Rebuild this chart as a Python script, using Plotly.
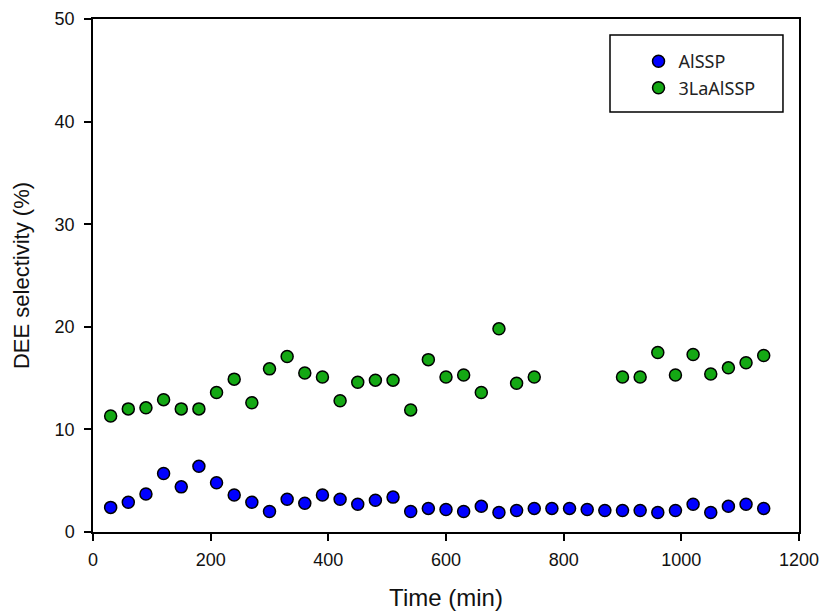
import plotly.graph_objects as go

# Time (min)
time_alssp = [30, 60, 90, 120, 150, 180, 210, 240, 270, 300, 330, 360, 390,
              420, 450, 480, 510, 540, 570, 600, 630, 660, 690, 720, 750,
              780, 810, 840, 870, 900, 930, 960, 990, 1020, 1050, 1080,
              1110, 1140]
sel_alssp = [2.4, 2.9, 3.7, 5.7, 4.4, 6.4, 4.8, 3.6, 2.9, 2.0, 3.2, 2.8, 3.6,
             3.2, 2.7, 3.1, 3.4, 2.0, 2.3, 2.2, 2.0, 2.5, 1.9, 2.1, 2.3,
             2.3, 2.3, 2.2, 2.1, 2.1, 2.1, 1.9, 2.1, 2.7, 1.9, 2.5,
             2.7, 2.3]

time_la = [30, 60, 90, 120, 150, 180, 210, 240, 270, 300, 330, 360, 390,
           420, 450, 480, 510, 540, 570, 600, 630, 660, 690, 720, 750,
           900, 930, 960, 990, 1020, 1050, 1080, 1110, 1140]
sel_la = [11.3, 12.0, 12.1, 12.9, 12.0, 12.0, 13.6, 14.9, 12.6, 15.9, 17.1,
          15.5, 15.1, 12.8, 14.6, 14.8, 14.8, 11.9, 16.8, 15.1, 15.3, 13.6,
          19.8, 14.5, 15.1, 15.1, 15.1, 17.5, 15.3, 17.3, 15.4, 16.0, 16.5,
          17.2]

fig = go.Figure()
fig.add_trace(go.Scatter(
    x=time_alssp, y=sel_alssp, mode="markers", name="AlSSP",
    marker=dict(size=12, color="#0000ff", line=dict(color="black", width=1.5))))
fig.add_trace(go.Scatter(
    x=time_la, y=sel_la, mode="markers", name="3LaAlSSP",
    marker=dict(size=12, color="#14a814", line=dict(color="black", width=1.5))))

tick_font = dict(family="Liberation Sans, Arial", size=18, color="#111111")

axis_common = dict(
    showline=True, linecolor="black", linewidth=1.5, mirror=True,
    ticks="outside", ticklen=7, tickwidth=1.5, tickcolor="black",
    showgrid=False, zeroline=False, automargin=False,
    tickfont=tick_font,
)

fig.update_xaxes(range=[0, 1200], dtick=200, ticklabelstandoff=4,
                 title=dict(text="Time (min)", standoff=20,
                            font=dict(family="Liberation Sans, Arial", size=24, color="#111111")),
                 **axis_common)
fig.update_yaxes(range=[0, 50], dtick=10, ticklabelstandoff=6,
                 title=dict(text="DEE selectivity (%)", standoff=19,
                            font=dict(family="Liberation Sans, Arial", size=22, color="#111111")),
                 **axis_common)

# legend frame
fig.add_shape(type="rect", xref="paper", yref="paper",
              x0=0.7323, x1=0.9773, y0=0.8187, y1=0.9688,
              line=dict(color="black", width=1.5), fillcolor="white", layer="below")

fig.update_layout(
    width=823, height=615,
    margin=dict(l=93, r=24, t=19, b=83),
    plot_bgcolor="white", paper_bgcolor="white",
    legend=dict(x=0.7727, y=0.953, xanchor="left", yanchor="top",
                borderwidth=0, bgcolor="rgba(0,0,0,0)",
                font=dict(family="Noto Sans", size=18, color="#222222"),
                itemwidth=30, tracegroupgap=2),
    showlegend=True,
)

# drop the page's default body margin so the figure fills the window
fig.write_html("out.html",
               config={"displayModeBar": False},
               post_script="document.body.style.margin='0';"
                           "document.body.style.overflow='hidden';")
